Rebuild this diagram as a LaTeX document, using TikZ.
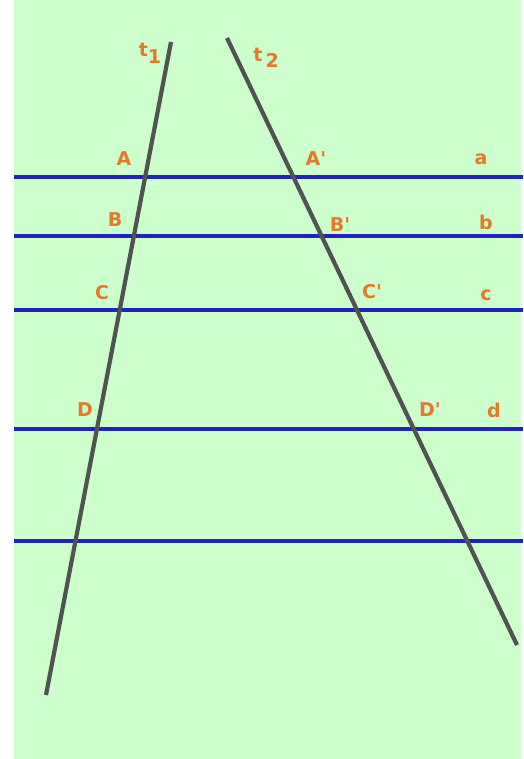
\documentclass[tikz,border=0pt]{standalone}
\usepackage{fontspec}
\setsansfont{DejaVu Sans}
\usepackage{tikz}
\definecolor{bgg}{RGB}{204,255,204}
\definecolor{parblue}{RGB}{34,34,190}
\definecolor{trgray}{RGB}{80,84,80}
\definecolor{lblorange}{RGB}{226,122,40}

\begin{document}
\begin{tikzpicture}[x=1pt,y=-1pt,
par/.style={draw=parblue,line width=4pt},
trans/.style={draw=trgray,line width=4.2pt},
lbl/.style={text=lblorange,font=\sffamily\bfseries\fontsize{19}{21}\selectfont,inner sep=0pt}]
\useasboundingbox (0,0) rectangle (523,759);
\fill[bgg] (14,0) rectangle (521,759);
% parallel lines a..d and the last one
\foreach \y/\n in {177/a,236/b,310/c,429/d,541/e}
  {\coordinate (\n L) at (14,\y);\coordinate (\n R) at (523,\y);\draw[par] (\n L)--(\n R);}
% transversals
\coordinate (t1top) at (171,42);\coordinate (t1bot) at (46,695);
\coordinate (t2top) at (227,38);\coordinate (t2bot) at (517,645);
\draw[trans] (t1top)--(t1bot);\draw[trans] (t2top)--(t2bot);
% labels
\node[lbl] (lt1) at (150,53) {t\raisebox{-7pt}{1}};
\node[lbl] (lt2) at (266,58) {t\,\raisebox{-6pt}{2}};
\node[lbl] (lA) at (124,159) {A};
\node[lbl] (lAp) at (316,159) {A\textquotesingle};
\node[lbl] (la) at (481,159) {a};
\node[lbl] (lB) at (115,220) {B};
\node[lbl] (lBp) at (340,225) {B\textquotesingle};
\node[lbl] (lb) at (486,222) {b};
\node[lbl] (lC) at (102,293) {C};
\node[lbl] (lCp) at (372,292) {C\textquotesingle};
\node[lbl] (lc) at (486,295) {c};
\node[lbl] (lD) at (85,410) {D};
\node[lbl] (lDp) at (430,410) {D\textquotesingle};
\node[lbl] (ld) at (494,410) {d};
\end{tikzpicture}
\end{document}
